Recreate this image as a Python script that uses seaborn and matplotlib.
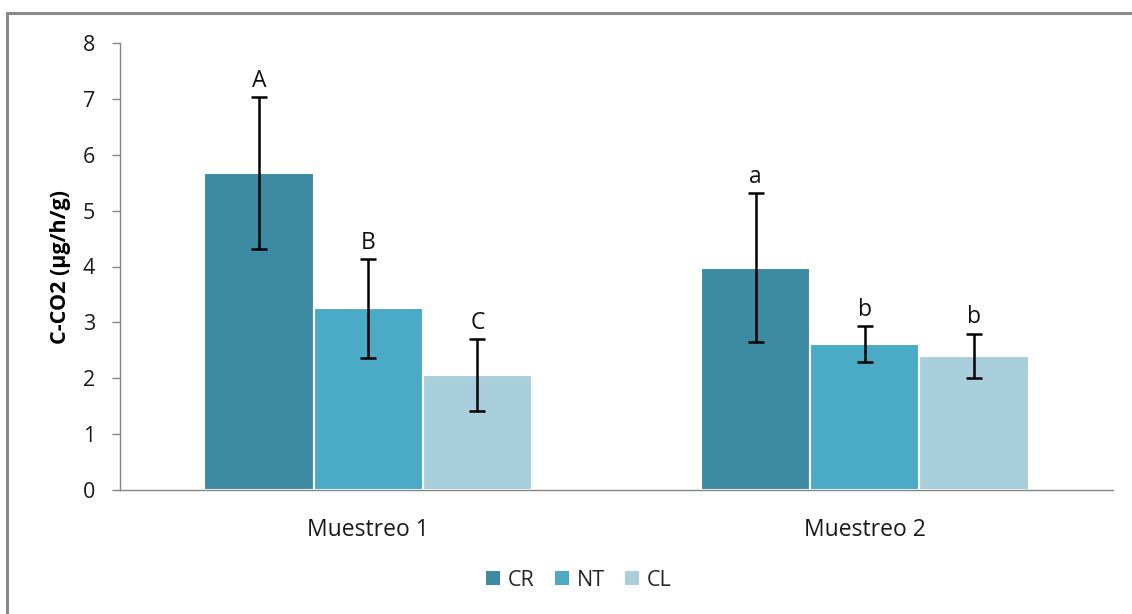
import matplotlib
matplotlib.use("Agg")
import matplotlib.pyplot as plt
from matplotlib.patches import Rectangle
import numpy as np
import pandas as pd
import seaborn as sns

# Data: soil respiration (C-CO2) per sampling and treatment
muestreos = ["Muestreo 1", "Muestreo 2"]
tratamientos = ["CR", "NT", "CL"]
cr_vals = [5.67, 3.98]
nt_vals = [3.25, 2.61]
cl_vals = [2.06, 2.40]
cr_err = [1.36, 1.33]
nt_err = [0.88, 0.32]
cl_err = [0.64, 0.40]
cr_letters = ["A", "a"]
nt_letters = ["B", "b"]
cl_letters = ["C", "b"]
y_ticks = [0, 1, 2, 3, 4, 5, 6, 7, 8]

colors = ["#3D8BA2", "#4BABC6", "#A9CFDD"]

values = [cr_vals, nt_vals, cl_vals]
errors = [cr_err, nt_err, cl_err]
letters = [cr_letters, nt_letters, cl_letters]

rows = []
for t, vals in zip(tratamientos, values):
    for m, v in zip(muestreos, vals):
        rows.append({"Muestreo": m, "Tratamiento": t, "valor": v})
df = pd.DataFrame(rows)

sns.set_style("white")
plt.rcParams["font.family"] = ["Open Sans", "DejaVu Sans"]

fig = plt.figure(figsize=(11.32, 6.14), dpi=100)
W, H = 1132, 614
ax = fig.add_axes([120 / W, 1 - 490 / H, (1113 - 120) / W, (490 - 43) / H])

sns.barplot(data=df, x="Muestreo", y="valor", hue="Tratamiento",
            order=muestreos, hue_order=tratamientos, palette=colors,
            width=0.66, edgecolor="white", linewidth=1.5, saturation=1,
            errorbar=None, ax=ax, zorder=2)

# error bars and significance letters on top of each bar
for container, errs, labs in zip(ax.containers, errors, letters):
    for bar, e, lab in zip(container, errs, labs):
        xc = bar.get_x() + bar.get_width() / 2
        h = bar.get_height()
        ax.errorbar(xc, h, yerr=e, color="black", lw=1.8, capsize=5.5,
                    capthick=1.8, zorder=4)
        ax.annotate(lab, (xc, h + e), xytext=(0, 3), textcoords="offset points",
                    ha="center", va="bottom", fontsize=16.5, color="#111111", zorder=5)

ax.set_ylim(0, 8)
ax.set_xlim(-0.5, 1.5)
ax.set_yticks(y_ticks)
ax.set_yticklabels([str(t) for t in y_ticks], fontsize=15.5, color="#1a1a1a")
ax.set_xticks([0, 1])
ax.set_xticklabels(muestreos, fontsize=16.5, color="#1a1a1a")
ax.set_xticks([-0.5, 0.5, 1.5], minor=True)
ax.tick_params(axis="x", which="major", length=0, pad=20)
ax.tick_params(axis="x", which="minor", length=6, width=1, color="#868686", direction="out")
ax.tick_params(axis="y", length=6, width=1, color="#868686", direction="out", pad=12, left=True)

for side in ["top", "right"]:
    ax.spines[side].set_visible(False)
for side in ["left", "bottom"]:
    ax.spines[side].set_color("#868686")
    ax.spines[side].set_linewidth(1)

ax.set_xlabel("")
ax.set_ylabel("C-CO2 (µg/h/g)", fontsize=15.5, fontweight="bold", color="black")
ax.yaxis.set_label_coords(-0.049, 0.5)

leg = ax.legend(loc="center", bbox_to_anchor=(579 / W, 1 - 580 / H),
                bbox_transform=fig.transFigure, ncol=3, frameon=False,
                fontsize=15.5, handlelength=0.65, handleheight=0.65,
                handletextpad=0.35, columnspacing=0.95)
for hnd in leg.legend_handles:
    hnd.set_edgecolor("none")

# outer chart frame
fig.patches.append(Rectangle((7 / W, -0.05), 1.1, 1 - 13 / H + 0.05,
                             transform=fig.transFigure, fill=False,
                             edgecolor="#8a8a8a", linewidth=2.2, zorder=0))

fig.savefig("out.png", dpi=100)
